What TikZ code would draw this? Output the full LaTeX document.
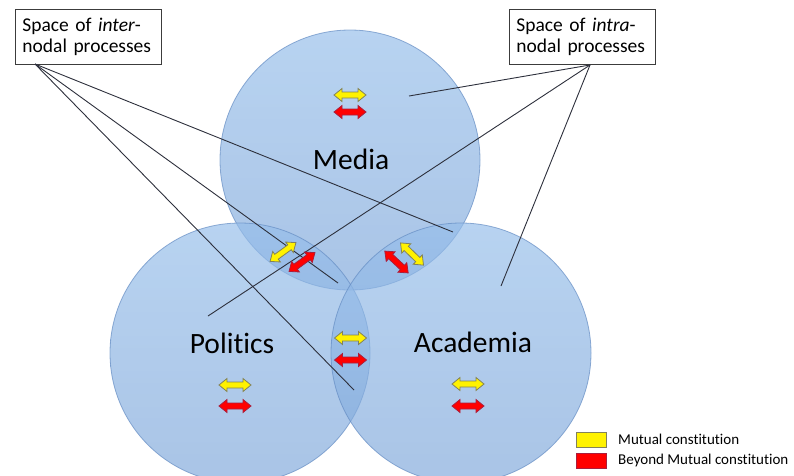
\documentclass[tikz,border=0pt]{standalone}
\usepackage{fontspec}
\setmainfont{Carlito}[Ligatures={NoCommon}]
\begin{document}
\begin{tikzpicture}[x=1pt,y=-1pt,
  sphere/.style={fill opacity=0.68, draw opacity=0.7, top color=circtop, bottom color=circbot, draw=circedge, line width=0.8pt},
  callout/.style={draw=boxedge, line width=0.9pt, fill=white, font=\fontsize{19.5}{21.3}\selectfont, text width=132pt, align=left, inner xsep=7pt, inner ysep=3pt, minimum height=55pt, anchor=north west},
  leader/.style={draw=leadcol, line width=0.9pt},
  nodename/.style={font=\fontsize{29.5}{32}\selectfont, anchor=base},
  mutual/.style={fill=yellow, draw=yelledge, line width=0.8pt},
  beyond/.style={fill=red, draw=rededge, line width=0.8pt},
  keybox/.style={minimum width=30pt, minimum height=15pt, inner sep=0pt, line width=0.8pt},
  keytext/.style={font=\fontsize{15}{17}\selectfont, anchor=west, inner sep=0pt},
  dblarrow/.pic={\path[pic actions] (-16,0) -- (-8,-6.5) -- (-8,-3) -- (8,-3) -- (8,-6.5) -- (16,0) -- (8,6.5) -- (8,3) -- (-8,3) -- (-8,6.5) -- cycle;}
]
\definecolor{circtop}{RGB}{150,190,234}
\definecolor{circbot}{RGB}{128,168,218}
\definecolor{circedge}{RGB}{100,140,195}
\definecolor{boxedge}{RGB}{60,60,60}
\definecolor{leadcol}{RGB}{45,48,60}
\definecolor{yelledge}{RGB}{130,130,90}
\definecolor{rededge}{RGB}{170,30,60}
\useasboundingbox (0,0) rectangle (794,475);

% the three overlapping domains
\begin{scope}
\clip (0,0) rectangle (794,475);
\shade[sphere] (350,160) circle[radius=130pt];
\shade[sphere] (240,353) circle[radius=130pt];
\shade[sphere] (461,353) circle[radius=130pt];
\end{scope}

% domain names
\node[nodename] (media) at (351,169) {Media};
\node[nodename] (politics) at (232,353) {Politics};
\node[nodename] (academia) at (473,352) {Academia};

% callout boxes
\node[callout] (inter) at (15,9) {Space of \textit{inter}-\\nodal processes};
\node[callout] (intra) at (509,9) {Space of \textit{intra}-\\nodal processes};

% leader line origins and targets
\coordinate (interfoot) at (35,64);
\coordinate (intrafoot) at (590,65);
\coordinate (eA) at (453,232);
\coordinate (eB) at (338,283);
\coordinate (eC) at (354,390);
\coordinate (aA) at (409,96);
\coordinate (aB) at (208,316);
\coordinate (aC) at (501,286);

\draw[leader] (interfoot) -- (eA);
\draw[leader] (interfoot) -- (eB);
\draw[leader] (interfoot) -- (eC);
\draw[leader] (intrafoot) -- (aA);
\draw[leader] (intrafoot) -- (aB);
\draw[leader] (intrafoot) -- (aC);

% relation arrows inside each domain
\pic[mutual] at (350,95) {dblarrow};
\pic[beyond] at (350,112) {dblarrow};
\pic[mutual] at (235,385) {dblarrow};
\pic[beyond] at (235,406) {dblarrow};
\pic[mutual] at (468,384) {dblarrow};
\pic[beyond] at (468,406) {dblarrow};

% relation arrows in the overlaps
\pic[mutual] at (350.5,338) {dblarrow};
\pic[beyond] at (350.5,360) {dblarrow};
\pic[mutual, rotate=36] at (283,252) {dblarrow};
\pic[beyond, rotate=36] at (302,262) {dblarrow};
\pic[beyond, rotate=-43] at (396.5,262) {dblarrow};
\pic[mutual, rotate=-44] at (412,254) {dblarrow};

% key
\node[keybox, fill=yellow, draw=yelledge] (keymutual) at (591,439.5) {};
\node[keybox, fill=red, draw=rededge] (keybeyond) at (591,460.5) {};
\node[keytext] (keymutualtext) at (618,439.5) {Mutual constitution};
\node[keytext] (keybeyondtext) at (618,460.5) {Beyond Mutual constitution};
\end{tikzpicture}
\end{document}
